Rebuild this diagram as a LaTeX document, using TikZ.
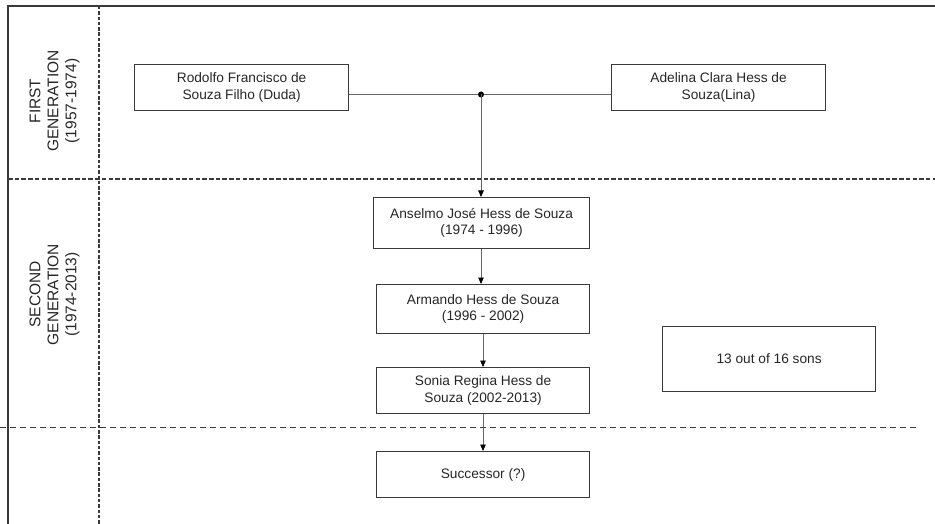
\documentclass[tikz,border=0pt]{standalone}
\usepackage{fontspec}
\setmainfont{Liberation Sans}
\usetikzlibrary{arrows.meta}
\definecolor{txt}{HTML}{262626}
\definecolor{boxline}{HTML}{3A3A3A}
\definecolor{conn}{HTML}{666666}
\begin{document}
\begin{tikzpicture}[x=1pt,y=-1pt,
  person/.style={draw=boxline,line width=1.2pt,rectangle,minimum width=214pt,minimum height=46pt,
    align=center,text=txt,font=\fontsize{13.7}{16.5}\selectfont,inner sep=0pt,anchor=north west},
  genlabel/.style={rotate=90,align=center,text=txt,font=\fontsize{15.5}{18}\selectfont},
  link/.style={draw=conn,line width=0.8pt},
  arr/.style={link,-{Triangle[length=6.5pt,width=5.5pt,color=black]}},
  border/.style={draw=boxline,line width=1.2pt},
  dashA/.style={draw=boxline,line width=1.3pt,dash pattern=on 4.5pt off 2.2pt},
  dashV/.style={draw=boxline,line width=1.3pt,dash pattern=on 3.5pt off 1.8pt},
  dashB/.style={draw=boxline,line width=1.1pt,dash pattern=on 6pt off 4pt}]
\useasboundingbox (0,0) rectangle (935,524);
% frame
\coordinate (tl) at (8,6);
\coordinate (tr) at (935,6);
\coordinate (bl) at (8,524);
\draw[border] (bl) -- (tl) -- (tr);
\coordinate (vt) at (99,6);
\coordinate (vb) at (99,524);
\draw[dashV] (vt) -- (vb);
\coordinate (h1l) at (8,179);
\coordinate (h1r) at (935,179);
\draw[dashA] (h1l) -- (h1r);
\coordinate (h2l) at (0,427.5);
\coordinate (h2r) at (917,427.5);
\draw[dashB] (h2l) -- (h2r);
% generation labels
\node[genlabel] (g1) at (54.5,101) {FIRST\\GENERATION\\(1957-1974)};
\node[genlabel] (g2) at (54.5,294.5) {SECOND\\GENERATION\\(1974-2013)};
% people
\node[person] (rod) at (134,64) {Rodolfo Francisco de\\Souza Filho (Duda)};
\node[person] (ade) at (611,64) {Adelina Clara Hess de\\Souza(Lina)};
\node[person,minimum width=216pt,minimum height=51pt] (ans) at (373,197) {Anselmo José Hess de Souza\\(1974 - 1996)};
\node[person,minimum width=213pt,minimum height=49pt] (arm) at (376,284) {Armando Hess de Souza\\(1996 - 2002)};
\node[person,minimum width=213pt,minimum height=46pt] (son) at (376,367) {Sonia Regina Hess de\\Souza (2002-2013)};
\node[person,minimum width=213pt,minimum height=46pt] (suc) at (376,451) {Successor (?)};
\node[person,minimum width=213pt,minimum height=65pt] (sons) at (662,326) {13 out of 16 sons};
% connectors
\coordinate (dot) at (481,94.5);
\draw[link] (rod.east |- dot) -- (ade.west |- dot);
\fill[black] (dot) circle (3pt);
\draw[arr] (dot) -- (dot |- ans.north);
\draw[arr] (ans.south -| 481,0) -- (arm.north -| 481,0);
\draw[arr] (arm.south -| 483,0) -- (son.north -| 483,0);
\draw[arr] (son.south -| 483,0) -- (suc.north -| 483,0);
\end{tikzpicture}
\end{document}
